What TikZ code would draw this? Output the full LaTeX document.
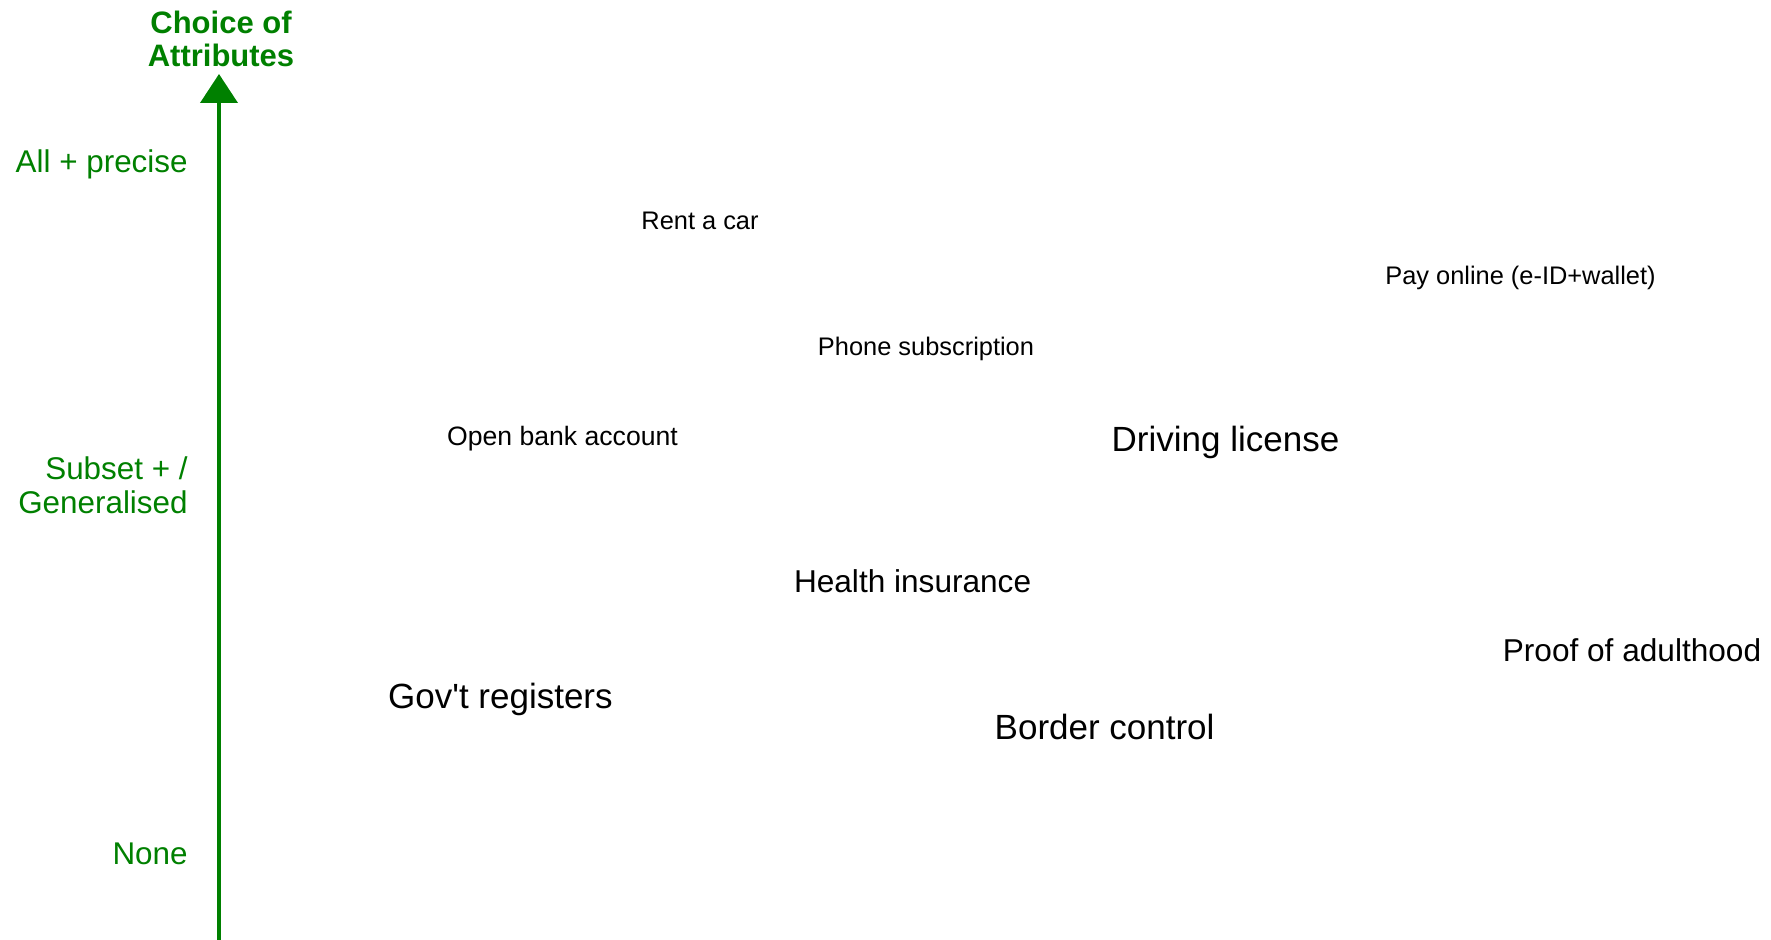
\documentclass[tikz,border=0pt]{standalone}
\usepackage{fontspec}
\setmainfont{Liberation Sans}
\usetikzlibrary{arrows.meta}
\definecolor{axisgreen}{RGB}{0,128,0}
\tikzset{
  axislabel/.style={text=axisgreen, anchor=east, align=right, inner sep=0pt, font=\fontsize{15.7}{17}\selectfont},
  axistitle/.style={text=axisgreen, align=center, inner sep=0pt, font=\fontsize{15.5}{16.5}\selectfont\bfseries},
  small/.style={inner sep=0pt, font=\fontsize{12.7}{14}\selectfont},
  medium/.style={inner sep=0pt, font=\fontsize{15.8}{17}\selectfont},
  large/.style={inner sep=0pt, font=\fontsize{17.5}{19}\selectfont},
  axisline/.style={draw=axisgreen, line width=2pt, -{Triangle[length=14.5pt,width=18.5pt]}}
}
\begin{document}
\begin{tikzpicture}[x=0.5pt,y=-0.5pt]
\useasboundingbox (0,0) rectangle (1771,940);
\coordinate (axisbottom) at (219,945);
\coordinate (axistop) at (219,74);
\draw[axisline] (axisbottom) -- (axistop);
\node[axistitle] (title) at (221,39) {Choice of\\Attributes};
\node[axislabel] (all) at (188,164) {All + precise};
\node[axislabel] (subset) at (188,485) {Subset + /\\Generalised};
\node[axislabel] (none) at (188,854) {None};
\node[small] (rent) at (700,221) {Rent a car};
\node[small] (pay) at (1520.5,278) {Pay online (e-ID+wallet)};
\node[small] (phone) at (926,349) {Phone subscription};
\node[small, font=\fontsize{13.3}{15}\selectfont] (bank) at (562.5,439) {Open bank account};
\node[large] (driving) at (1225.5,442) {Driving license};
\node[medium] (health) at (912.6,581) {Health insurance};
\node[medium] (adult) at (1632,650) {Proof of adulthood};
\node[large] (gov) at (500.4,699) {Gov\textquotesingle t registers};
\node[large] (border) at (1104.6,727) {Border control};
\end{tikzpicture}
\end{document}
